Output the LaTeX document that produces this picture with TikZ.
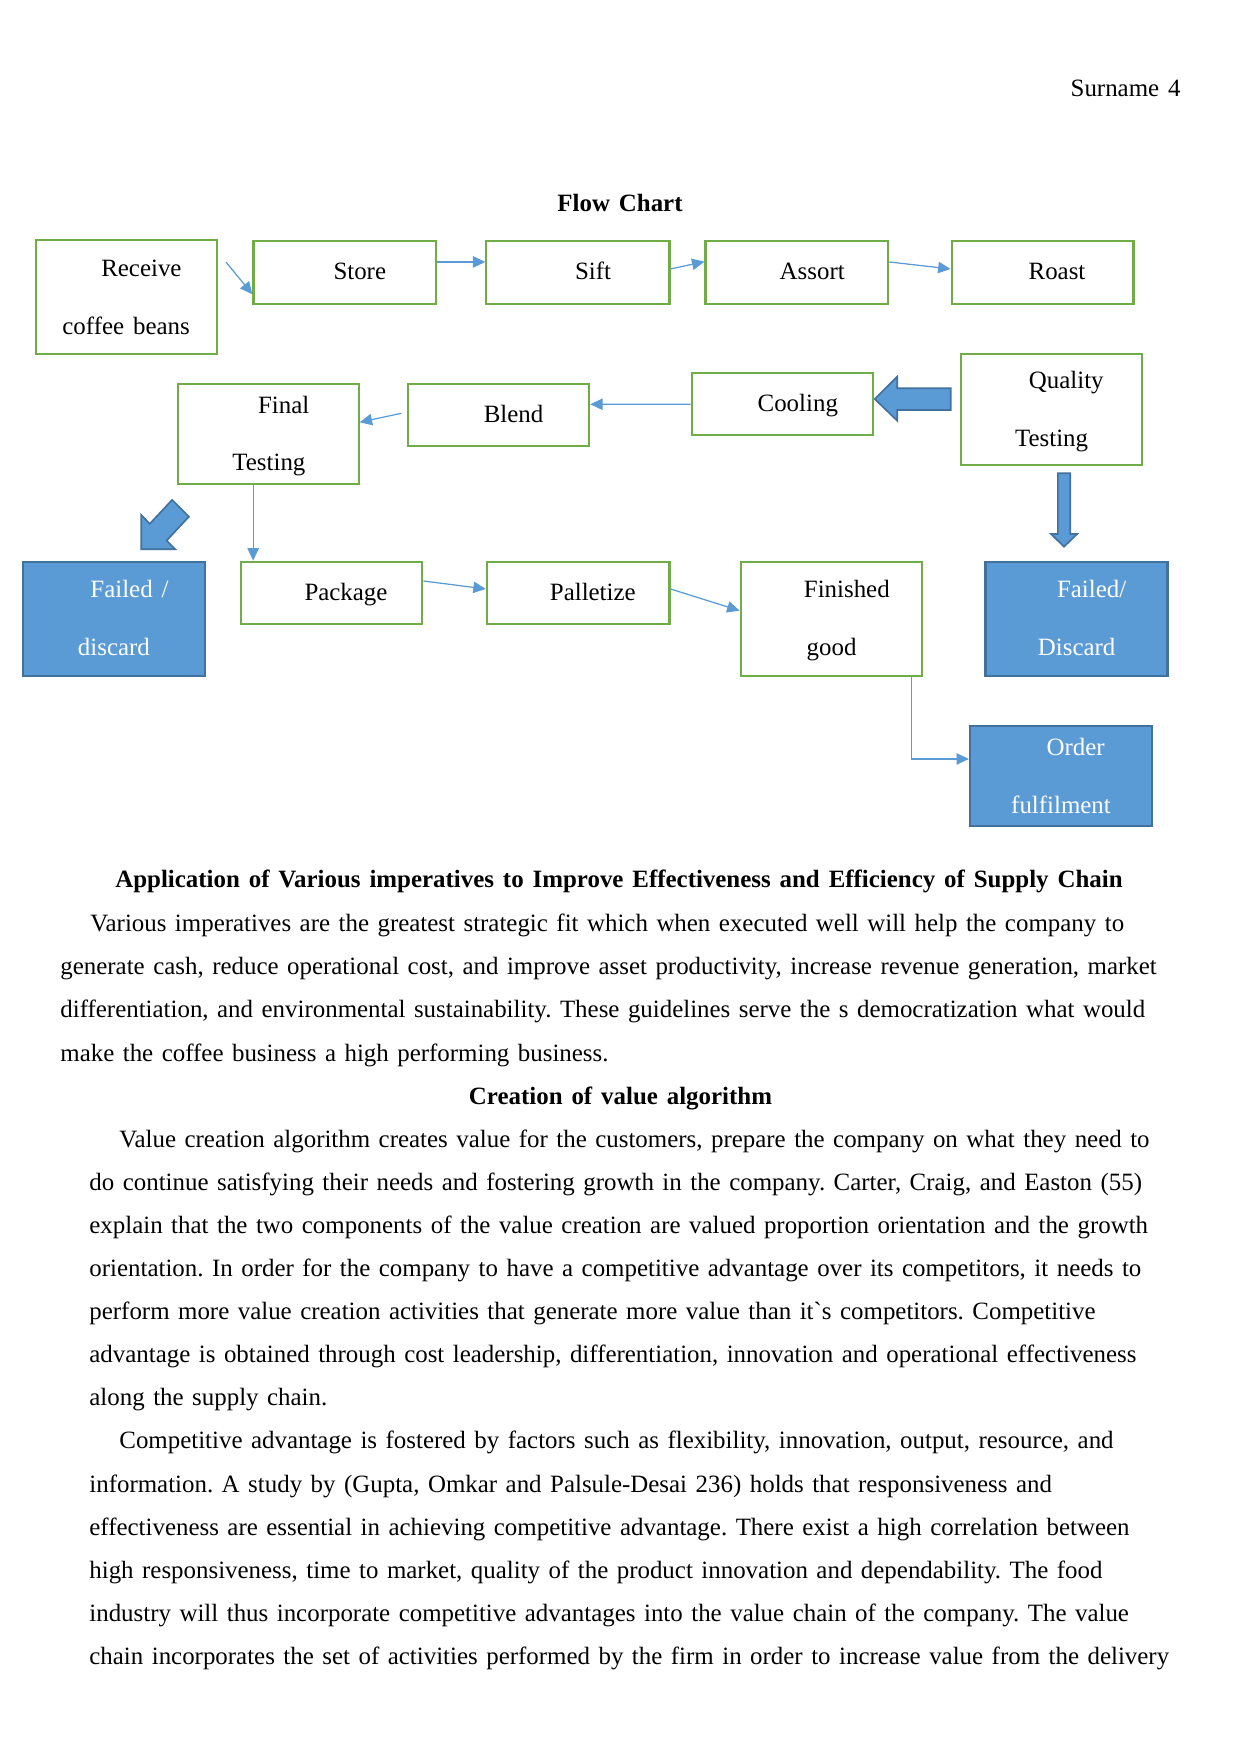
\documentclass[tikz,border=0pt]{standalone}
\usepackage{fontspec}
\setmainfont{Liberation Serif}
\usetikzlibrary{arrows.meta,fit,calc}
\definecolor{boxgreen}{HTML}{70AD47}
\definecolor{accblue}{HTML}{5B9BD5}
\definecolor{darkblue}{HTML}{41719C}
\newcommand{\wsp}{\frenchspacing\spaceskip=4.3pt\relax}
\newcommand{\psp}{\frenchspacing\spaceskip=4.1pt\relax}
\tikzset{
  x=0.4818pt, y=-0.4818pt,
  greenbox/.style={draw=boxgreen, line width=1pt, inner sep=0pt},
  bluebox/.style={draw=darkblue, fill=accblue, line width=1pt, inner sep=0pt},
  txt/.style={font=\fontsize{12}{14.4}\selectfont\wsp, inner sep=0pt, anchor=base},
  wtxt/.style={txt, text=white},
  para/.style={font=\fontsize{12}{14.4}\selectfont\psp, inner sep=0pt, anchor=base west},
  bold/.style={font=\fontsize{12}{14.4}\selectfont\bfseries\wsp, inner sep=0pt, anchor=base},
  conn/.style={draw=accblue, line width=0.6pt, -{Triangle[length=6pt,width=5.5pt]}},
  blockarrow/.style={fill=accblue, draw=darkblue, line width=0.8pt, line join=miter}
}
\begin{document}
\begin{tikzpicture}
\useasboundingbox (0,0) rectangle (1241,1754);
% header
\node[txt, anchor=base east] (surname) at (1181,96.7) {Surname 4};
\node[bold] (title) at (620,211.7) {Flow Chart};
% boxes
\node[greenbox, fit={(35.6,240.3) (217.1,353.7)}] (receive) {};
\node[greenbox, fit={(253.5,240.7) (436.2,304)}] (store) {};
\node[greenbox, fit={(486.4,240.7) (669.5,304)}] (sift) {};
\node[greenbox, fit={(705.5,240.7) (888.2,304)}] (assort) {};
\node[greenbox, fit={(951.6,240.7) (1133.5,304)}] (roast) {};
\node[greenbox, fit={(177.9,383.7) (358.6,483.7)}] (final) {};
\node[greenbox, fit={(407.7,383.7) (589.2,445.7)}] (blend) {};
\node[greenbox, fit={(691.6,372.7) (873.1,435)}] (cooling) {};
\node[greenbox, fit={(960.6,353.7) (1142.1,465)}] (quality) {};
\node[bluebox, fit={(22.9,561.7) (205.2,676)}] (faila) {};
\node[greenbox, fit={(240.8,561.7) (422.3,624)}] (package) {};
\node[greenbox, fit={(486.8,561.7) (669.5,624)}] (palletize) {};
\node[greenbox, fit={(740.6,561.7) (922.2,676)}] (finished) {};
\node[bluebox, fit={(985.5,561.7) (1167.5,676.3)}] (failb) {};
\node[bluebox, fit={(970,725.7) (1152.3,826)}] (order) {};
% box texts
\node[txt] (t-receive) at (141.4,276.7) {Receive};
\node[txt] (t-coffee) at (126.1,334.3) {coffee beans};
\node[txt] (t-store) at (359.8,280) {Store};
\node[txt] (t-sift) at (593,280) {Sift};
\node[txt] (t-assort) at (812.2,280) {Assort};
\node[txt] (t-roast) at (1057,280) {Roast};
\node[txt] (t-final) at (283.7,413.3) {Final};
\node[txt] (t-ftesting) at (268.9,470.5) {Testing};
\node[txt] (t-blend) at (513.6,422.7) {Blend};
\node[txt] (t-cooling) at (797.8,411.7) {Cooling};
\node[txt] (t-quality) at (1066.3,388.3) {Quality};
\node[txt] (t-qtesting) at (1051.6,446.7) {Testing};
\node[wtxt] (t-faileda) at (129.5,597.7) {Failed /};
\node[wtxt] (t-discarda) at (113.9,655) {discard};
\node[txt] (t-package) at (346,600) {Package};
\node[txt] (t-palletize) at (592.8,600) {Palletize};
\node[txt] (t-finished) at (846.8,597.7) {Finished};
\node[txt] (t-good) at (831.6,655) {good};
\node[wtxt] (t-failedb) at (1091.6,597.7) {Failed/};
\node[wtxt] (t-discardb) at (1076.7,655) {Discard};
\node[wtxt] (t-order) at (1075.6,755.7) {Order};
\node[wtxt] (t-fulfil) at (1061,813.3) {fulfilment};
% connectors
\draw[conn] ($(receive.north east)+(8,23)$) -- ($(store.south west)+(0,-10.7)$);
\draw[conn] ($(store.north east)+(0,22.3)$) -- ($(sift.north west)+(0,22.3)$);
\draw[conn] ($(sift.north east)+(0,29.3)$) -- ($(assort.north west)+(0,22)$);
\draw[conn] ($(assort.north east)+(0,22.3)$) -- ($(roast.north west)+(0,29.3)$);
\draw[conn] ($(cooling.north west)+(0,32.6)$) -- ($(blend.north east)+(0,21.6)$);
\draw[conn] ($(blend.north west)+(-5.2,30.6)$) -- ($(final.north east)+(0,39.6)$);
\draw[conn] ($(final.south west)+(76.3,0)$) -- ($(package.north west)+(13.4,0)$);
\draw[conn] ($(package.north east)+(0,20.3)$) -- ($(palletize.north west)+(0,28.3)$);
\draw[conn] ($(palletize.north east)+(0,28.3)$) -- ($(finished.north west)+(0,50)$);
\draw[conn] ($(finished.south east)+(-11.5,0)$) |- ($(order.north west)+(0,34.3)$);
% block arrows
\draw[blockarrow] (874.7,399) -- (897.2,376.7) -- (897.2,388.3) -- (950.8,388.3) -- (950.8,410) -- (897.2,410) -- (897.2,420.7) -- cycle;
\draw[blockarrow] (1057.9,473.3) -- (1070.2,473.3) -- (1070.2,534) -- (1077.1,534) -- (1064,546.7) -- (1051,534) -- (1057.9,534) -- cycle;
\draw[blockarrow] (141.2,549.3) -- (175.2,549.3) -- (166.6,540.6) -- (188.9,516.7) -- (172.1,499.9) -- (149.8,523.8) -- (141.2,515) -- cycle;
% body text
\node[bold] (h1) at (619,887) {Application of Various imperatives to Improve Effectiveness and Efficiency of Supply Chain};
\node[para] (p1) at (90,931.7) {Various imperatives are the greatest strategic fit which when executed well will help the company to};
\node[para] (p2) at (60,974.8) {generate cash, reduce operational cost, and improve asset productivity, increase revenue generation, market};
\node[para] (p3) at (60,1017.9) {differentiation, and environmental sustainability. These guidelines serve the s democratization what would};
\node[para] (p4) at (60,1061) {make the coffee business a high performing business.};
\node[bold] (h2) at (620.5,1104) {Creation of value algorithm};
\node[para] (p5) at (119,1147.2) {Value creation algorithm creates value for the customers, prepare the company on what they need to};
\node[para] (p6) at (89,1190.3) {do continue satisfying their needs and fostering growth in the company. Carter, Craig, and Easton (55)};
\node[para] (p7) at (89,1233.4) {explain that the two components of the value creation are valued proportion orientation and the growth};
\node[para] (p8) at (89,1276.5) {orientation. In order for the company to have a competitive advantage over its competitors, it needs to};
\node[para] (p9) at (89,1319.6) {perform more value creation activities that generate more value than it\textasciigrave s competitors. Competitive};
\node[para] (p10) at (89,1362.7) {advantage is obtained through cost leadership, differentiation, innovation and operational effectiveness};
\node[para] (p11) at (89,1405.8) {along the supply chain.};
\node[para] (p12) at (119,1448.9) {Competitive advantage is fostered by factors such as flexibility, innovation, output, resource, and};
\node[para] (p13) at (89,1492) {information. A study by (Gupta, Omkar and Palsule-Desai 236) holds that responsiveness and};
\node[para] (p14) at (89,1535) {effectiveness are essential in achieving competitive advantage. There exist a high correlation between};
\node[para] (p15) at (89,1578.2) {high responsiveness, time to market, quality of the product innovation and dependability. The food};
\node[para] (p16) at (89,1621.3) {industry will thus incorporate competitive advantages into the value chain of the company. The value};
\node[para] (p17) at (89,1664.4) {chain incorporates the set of activities performed by the firm in order to increase value from the delivery};
\end{tikzpicture}
\end{document}
